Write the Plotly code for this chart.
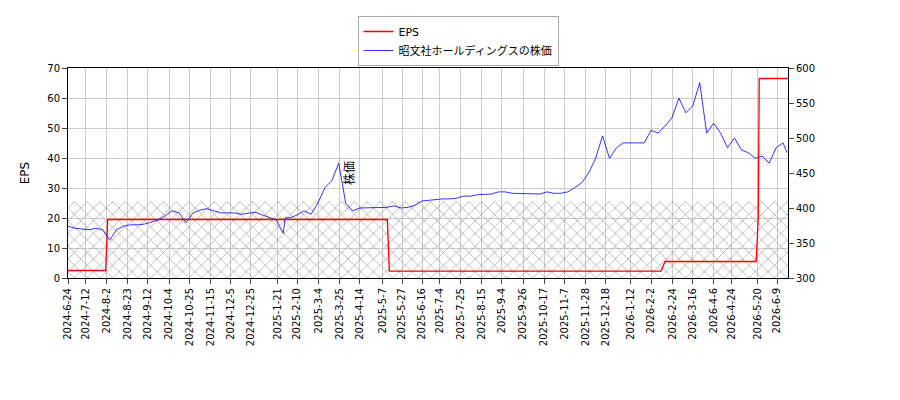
import plotly.graph_objects as go

eps_dates = ["2024-06-24","2024-08-01","2024-08-03","2025-05-12","2025-05-14","2026-02-12","2026-02-16","2026-05-19","2026-05-21","2026-05-22","2026-06-20"]
eps_vals = [2.5,2.5,19.5,19.5,2.3,2.3,5.5,5.5,20,66.5,66.5]

price_dates = ["2024-06-24","2024-07-01","2024-07-08","2024-07-15","2024-07-22","2024-07-29","2024-08-05","2024-08-12","2024-08-19","2024-08-26","2024-09-02","2024-09-09","2024-09-16","2024-09-23","2024-09-30","2024-10-07","2024-10-14","2024-10-21","2024-10-28","2024-11-04","2024-11-11","2024-11-18","2024-11-25","2024-12-02","2024-12-09","2024-12-16","2024-12-23","2024-12-30","2025-01-06","2025-01-13","2025-01-20","2025-01-27","2025-01-29","2025-02-03","2025-02-10","2025-02-17","2025-02-24","2025-03-03","2025-03-10","2025-03-17","2025-03-24","2025-03-31","2025-04-07","2025-04-14","2025-04-21","2025-04-28","2025-05-05","2025-05-12","2025-05-19","2025-05-26","2025-06-02","2025-06-09","2025-06-16","2025-06-23","2025-06-30","2025-07-07","2025-07-14","2025-07-21","2025-07-28","2025-08-04","2025-08-11","2025-08-18","2025-08-25","2025-09-01","2025-09-08","2025-09-15","2025-09-22","2025-09-29","2025-10-06","2025-10-13","2025-10-20","2025-10-27","2025-11-03","2025-11-10","2025-11-17","2025-11-24","2025-12-01","2025-12-08","2025-12-15","2025-12-22","2025-12-29","2026-01-05","2026-01-12","2026-01-19","2026-01-26","2026-02-02","2026-02-09","2026-02-16","2026-02-23","2026-03-02","2026-03-09","2026-03-16","2026-03-23","2026-03-30","2026-04-06","2026-04-13","2026-04-20","2026-04-27","2026-05-04","2026-05-11","2026-05-18","2026-05-25","2026-06-01","2026-06-08","2026-06-15","2026-06-19"]
price_vals = [374,371,370,369,371,369,354,369,374,376,376,377,380,383,389,396,393,379,393,397,399,396,393,393,393,391,393,394,390,386,383,364,386,386,390,396,391,407,429,439,464,407,396,400,400,400,401,401,403,400,401,404,410,411,413,413,413,414,417,417,419,420,420,423,423,421,421,420,420,420,423,421,421,423,429,436,450,471,503,471,486,493,493,493,493,511,507,517,529,557,536,546,579,507,521,507,486,500,483,479,471,474,464,486,493,479]

tick_vals = ["2024-06-24","2024-07-12","2024-08-02","2024-08-23","2024-09-12","2024-10-04","2024-10-25","2024-11-15","2024-12-05","2024-12-25","2025-01-21","2025-02-10","2025-03-04","2025-03-25","2025-04-14","2025-05-07","2025-05-27","2025-06-16","2025-07-04","2025-07-25","2025-08-15","2025-09-04","2025-09-26","2025-10-17","2025-11-07","2025-11-28","2025-12-18","2026-01-12","2026-02-02","2026-02-24","2026-03-16","2026-04-06","2026-04-24","2026-05-20","2026-06-09"]
tick_text = [f"{int(d[:4])}-{int(d[5:7])}-{int(d[8:])}" for d in tick_vals]

hatch_x = ["2024-06-24","2026-06-20"]
hatch_y = [25.7,25.7]

fig = go.Figure()
fig.add_trace(go.Scatter(x=hatch_x, y=hatch_y, mode="lines", line=dict(width=0), fill="tozeroy",
    fillcolor="rgba(0,0,0,0)", fillpattern=dict(shape="x", fgcolor="#888", fgopacity=1, bgcolor="rgba(0,0,0,0)", size=9, solidity=0.12),
    showlegend=False, hoverinfo="skip"))
fig.add_trace(go.Scatter(x=eps_dates, y=eps_vals, mode="lines", name="EPS", line=dict(color="red", width=1.3)))
fig.add_trace(go.Scatter(x=price_dates, y=price_vals, mode="lines", name="昭文社ホールディングスの株価", yaxis="y2", line=dict(color="blue", width=0.8)))

fig.update_layout(
    width=900, height=400, margin=dict(l=60, r=120, t=60, b=130, autoexpand=False),
    plot_bgcolor="white", paper_bgcolor="white",
    font=dict(family="DejaVu Sans, Noto Sans CJK JP", size=10, color="black"),
    legend=dict(x=0.5, y=0.98, xref="container", yref="container", xanchor="center", yanchor="top",
                bordercolor="#aaa", borderwidth=1, bgcolor="white", font=dict(size=11)),
    xaxis=dict(range=["2024-06-24","2026-06-20"], tickvals=tick_vals, ticktext=tick_text, tickangle=-90,
               showgrid=True, gridcolor="#ccc", showline=True, linecolor="black", mirror=True, ticks="outside"),
    yaxis=dict(title="EPS", range=[0,70], dtick=10, showgrid=True, gridcolor="#ccc", showline=True, linecolor="black", ticks="outside", zeroline=False),
    yaxis2=dict(title="株価", range=[300,600], dtick=50, overlaying="y", side="right", showgrid=False, showline=True, linecolor="black", ticks="outside"),
)
fig.write_html("out.html")
